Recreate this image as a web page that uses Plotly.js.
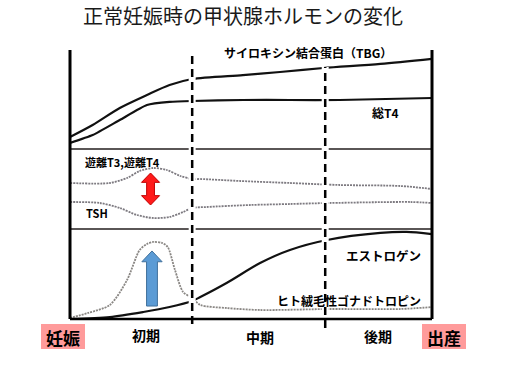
<!DOCTYPE html>
<html><head><meta charset="utf-8">
<script src="https://cdn.plot.ly/plotly-3.0.1.min.js"></script>
<style>html,body{margin:0;padding:0;background:#fff}</style>
</head><body><div id="chart" style="width:510px;height:367px"></div>
<script>
// ---- data (weeks of pregnancy 0..40, relative level 0..100 within each panel) ----
const tbgWeeks = [0, 2.5, 5.5, 8.5, 11, 13.5, 19.1, 23.2, 28, 34.3, 40];
const tbgVals  = [12.1, 24.2, 41.4, 54.5, 64.6, 70.7, 74.7, 77.8, 81.8, 85.9, 91];
const t4Weeks  = [0, 2.5, 5.5, 8.5, 11, 13.5, 19.1, 24.3, 29.8, 40];
const t4Vals   = [6.1, 14.1, 29.3, 44.4, 47.5, 48.5, 49.5, 49.5, 49.5, 51.5];
const freeWeeks = [0, 4.4, 6.3, 7.7, 9.2, 10.7, 12.2, 13.5, 14.4, 18.8, 24.3, 29.8, 36.5, 40];
const freeVals  = [57.5, 57.5, 63.75, 72.5, 76.25, 73.75, 66.25, 62.5, 62.5, 60, 57.5, 55, 53.75, 50];
const tshWeeks = [0, 3.3, 5.5, 7.4, 9.2, 11, 12.5, 13.5, 15.1, 19.9, 24.3, 28.7, 37.6, 40];
const tshVals  = [33.75, 32.5, 26.25, 17.5, 13.75, 15, 21.25, 26.25, 27.5, 30, 31.25, 32.5, 33.75, 32.5];
const hcgWeeks = [0, 2, 4.4, 6.3, 7.7, 8.5, 9.2, 10.2, 10.8, 11.6, 12.5, 13.5, 14.4, 17.3, 21, 28.7, 36.5, 40];
const hcgVals  = [1.1, 6.7, 15.6, 43.3, 76.7, 83.3, 85.6, 84.4, 80, 54.4, 30, 23.3, 15.6, 12.2, 10, 11.1, 11.1, 13.3];
const estWeeks = [0, 4.4, 8.1, 11, 13.5, 14.4, 17.3, 21, 24.3, 28.4, 34.3, 37.2, 40];
const estVals  = [0, 2.2, 7.8, 13.3, 20, 24.4, 40, 62.2, 76.7, 87.8, 95.6, 96.7, 94.4];
const phaseBounds = [13.5, 28.2];
const phaseLabels = ["初期", "中期", "後期"];
const endLabels = ["妊娠", "出産"];
// arrows: week, from level, to level (panel units)
const redArrow  = {week: 8.9, from: 30, to: 70};
const blueArrow = {week: 9.06, from: 14.4, to: 75.6};

// ---- layout geometry ----
const W = 510, H = 367, L = 70, R = 432, T = 50, B = 319;
const px = x => (x - L) / (R - L);
const py = y => (B - y) / (B - T);
const d3 = py(229), d2 = py(149);

function line(x, y, ax, color, width, dash, smooth) {
  return {x, y, yaxis: ax, xaxis: 'x', mode: 'lines', hoverinfo: 'skip',
    line: {color, width, dash: dash || 'solid', shape: 'spline', smoothing: smooth || 0.8}};
}
const traces = [
  line(tbgWeeks, tbgVals, 'y3', '#111', 2.2),
  line(t4Weeks, t4Vals, 'y3', '#111', 2.2, null, 0.5),
  line(freeWeeks, freeVals, 'y2', '#7d7a80', 1.8, '2px,1px'),
  line(tshWeeks, tshVals, 'y2', '#7d7a80', 1.8, '2px,1px'),
  line(hcgWeeks, hcgVals, 'y', '#8a8784', 1.8, '2px,1px'),
  line(estWeeks, estVals, 'y', '#111', 2.2)
];

function upArrow(a, sw, hw, hl) {
  const x = a.week, y0 = a.from, y1 = a.to;
  return `M${x-sw},${y0} L${x+sw},${y0} L${x+sw},${y1-hl} L${x+hw},${y1-hl} L${x},${y1} L${x-hw},${y1-hl} L${x-sw},${y1-hl} Z`;
}
function dblArrow(a, sw, hw, hl) {
  const x = a.week, y0 = a.from, y1 = a.to;
  return `M${x},${y0} L${x+hw},${y0+hl} L${x+sw},${y0+hl} L${x+sw},${y1-hl} L${x+hw},${y1-hl} L${x},${y1} L${x-hw},${y1-hl} L${x-sw},${y1-hl} L${x-sw},${y0+hl} L${x-hw},${y0+hl} Z`;
}

const shapes = [
  // panel dividers
  {type:'line', xref:'paper', yref:'paper', x0:0, x1:1, y0:d2, y1:d2, line:{color:'#5a5656', width:2}},
  {type:'line', xref:'paper', yref:'paper', x0:0, x1:1, y0:d3, y1:d3, line:{color:'#5a5656', width:2}},
  // frame
  {type:'line', xref:'paper', yref:'paper', x0:0, x1:0, y0:0, y1:1, line:{color:'#000', width:3}},
  {type:'line', xref:'paper', yref:'paper', x0:1, x1:1, y0:0, y1:1, line:{color:'#000', width:3}},
  {type:'line', xref:'paper', yref:'paper', x0:0, x1:1, y0:0, y1:0, line:{color:'#000', width:2.5}},
  // white gaps behind the phase boundaries
  {type:'line', xref:'x', yref:'paper', x0:phaseBounds[0], x1:phaseBounds[0], y0:py(317), y1:py(52), line:{color:'#fff', width:7}},
  {type:'line', xref:'x', yref:'paper', x0:phaseBounds[1], x1:phaseBounds[1], y0:py(317), y1:py(67), line:{color:'#fff', width:7}},
  // phase boundaries
  {type:'line', xref:'x', yref:'paper', x0:phaseBounds[0], x1:phaseBounds[0], y0:py(324), y1:py(52), line:{color:'#000', width:2.5, dash:'8px,5px'}},
  {type:'line', xref:'x', yref:'paper', x0:phaseBounds[1], x1:phaseBounds[1], y0:py(328), y1:py(67), line:{color:'#000', width:2.5, dash:'8px,5px'}},
  // arrows
  {type:'path', xref:'x', yref:'y2', path: dblArrow(redArrow, 0.43, 1.0, 11.7), fillcolor:'#ff1a1a', line:{color:'#c00000', width:1}},
  {type:'path', xref:'x', yref:'y', path: upArrow(blueArrow, 0.6, 1.12, 12), fillcolor:'#5b9bd5', line:{color:'#41719c', width:1}},
  // end label boxes
  {type:'rect', xref:'paper', yref:'paper', x0:px(41), x1:px(85), y0:py(349), y1:py(324), fillcolor:'#ff9b9b', line:{width:0}},
  {type:'rect', xref:'paper', yref:'paper', x0:px(422), x1:px(466), y0:py(349), y1:py(324), fillcolor:'#ff9b9b', line:{width:0}}
];

const CJK = '"Noto Sans CJK JP", sans-serif';
function lab(text, x, y, size, anchor) {
  return {text: '<b>' + text + '</b>', xref:'paper', yref:'paper', x: px(x), y: py(y),
    xanchor: anchor || 'center', yanchor:'middle', showarrow:false,
    font:{family: CJK, size, color:'#000'}};
}
const annotations = [
  lab('サイロキシン結合蛋白（TBG）', 222, 52, 12, 'left'),
  lab('総T4', 385, 112, 12),
  lab('遊離T3,遊離T4', 83, 162, 11, 'left'),
  lab('TSH', 84, 213, 11, 'left'),
  lab('エストロゲン', 383, 255, 12.5),
  lab('ヒト絨毛性ゴナドトロピン', 349, 300, 12),
  lab(phaseLabels[0], 146, 335, 14),
  lab(phaseLabels[1], 260, 337, 14),
  lab(phaseLabels[2], 378, 336, 14),
  lab(endLabels[0], 63, 337, 17),
  lab(endLabels[1], 444, 337, 17)
];

const hidden = {showgrid:false, zeroline:false, showticklabels:false, showline:false, ticks:''};
const layout = {
  width: W, height: H,
  margin: {l: L, r: W - R, t: T, b: H - B},
  paper_bgcolor:'#fff', plot_bgcolor:'#fff',
  showlegend:false,
  title: {text:'正常妊娠時の甲状腺ホルモンの変化', x: 243 / W, xref:'container', xanchor:'center',
    y: 1 - 17 / H, yref:'container', yanchor:'middle',
    font:{family: CJK, size: 20, color:'#1a1a1a'}},
  xaxis: Object.assign({range:[0, 40]}, hidden),
  yaxis: Object.assign({domain:[0, d3], range:[0, 100], anchor:'x'}, hidden),
  yaxis2: Object.assign({domain:[d3, d2], range:[0, 100], anchor:'x'}, hidden),
  yaxis3: Object.assign({domain:[d2, 1], range:[0, 100], anchor:'x'}, hidden),
  shapes, annotations
};
Plotly.newPlot('chart', traces, layout, {displayModeBar:false, staticPlot:true});
</script>
</body></html>
